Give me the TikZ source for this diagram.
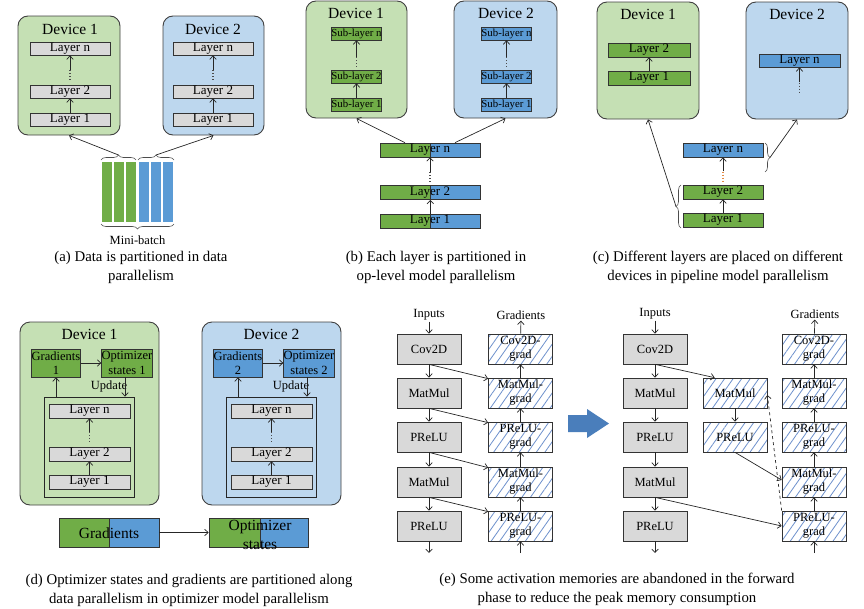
\documentclass[tikz,border=0pt]{standalone}
\usepackage{fontspec}
\setmainfont{Liberation Serif}
\usetikzlibrary{arrows.meta,patterns.meta,decorations.pathreplacing}
\definecolor{devgreen}{RGB}{197,224,180}
\definecolor{devblue}{RGB}{189,215,238}
\definecolor{laygreen}{RGB}{112,173,71}
\definecolor{layblue}{RGB}{91,155,213}
\definecolor{laygray}{RGB}{217,217,217}
\definecolor{hatchblue}{RGB}{110,145,205}
\definecolor{bigblue}{RGB}{74,126,187}
\definecolor{dotorange}{RGB}{228,140,70}
\tikzset{
  ar/.style={->,line width=0.7pt,black!85},
  devbox/.style={draw=black!75,line width=0.9pt,rounded corners=10pt,inner sep=0pt},
  title/.style={font=\fontsize{15.5}{17}\selectfont,inner sep=0pt},
  layer/.style={draw=black!80,line width=0.7pt,fill=laygray,minimum width=80pt,minimum height=13pt,inner sep=0pt,font=\fontsize{13}{13}\selectfont},
  sublayer/.style={layer,minimum width=49pt,font=\fontsize{10.8}{11}\selectfont},
  half/.style={draw=black!80,line width=0.7pt,minimum width=50pt,minimum height=14pt,inner sep=0pt},
  laytext/.style={minimum height=14pt,inner sep=0pt,font=\fontsize{13}{13}\selectfont},
  lab/.style={inner sep=1pt,font=\fontsize{12.5}{14}\selectfont},
  dotcol/.style={minimum width=2pt,minimum height=10pt,inner sep=0pt,
    path picture={\draw[#1,line width=1.1pt,dash pattern=on 1pt off 2pt]
      (path picture bounding box.north) -- (path picture bounding box.south);}},
  dotcol/.default=black!70,
  brc/.style={decorate,decoration={brace,amplitude=5pt},draw=black!70,line width=0.6pt},
  gbox/.style={draw=black!80,line width=0.7pt,minimum height=28pt,inner sep=0pt,align=center,font=\fontsize{12.5}{14.5}\selectfont},
  opbox/.style={draw=black!80,line width=0.7pt,minimum width=64pt,minimum height=30pt,inner sep=0pt,align=center,font=\fontsize{12.5}{14}\selectfont},
  fwd/.style={opbox,fill=laygray},
  hatched/.style={opbox,preaction={fill=white},pattern={Lines[angle=55,distance=7pt,line width=0.8pt]},pattern color=hatchblue},
  bigtext/.style={inner sep=0pt,align=center,font=\fontsize{15.5}{19}\selectfont},
  capt/.style={align=center,inner sep=0pt,font=\fontsize{14.8}{19}\selectfont},
}
\begin{document}
\begin{tikzpicture}[x=1pt,y=-1pt,>={Straight Barb[length=3.5pt,width=6.5pt]}]
  \useasboundingbox (0,0) rectangle (864,608);
  % (a) data parallelism
  \node[devbox,fill=devgreen,minimum width=102pt,minimum height=119pt] (aDev1) at (69,75.5) {};
  \node[devbox,fill=devblue,minimum width=101pt,minimum height=119pt] (aDev2) at (213.5,75.5) {};
  \foreach \dv/\x in {1/70,2/213} {
    \node[title] (aTit\dv) at (\x,29) {Device \dv};
    \node[layer] (aLn\dv) at (\x,48.5) {Layer n};
    \node[layer] (aLb\dv) at (\x,91.5) {Layer 2};
    \node[layer] (aLa\dv) at (\x,119.5) {Layer 1};
    \node[dotcol] (aDot\dv) at (\x,75) {};
    \draw[ar] (aLa\dv) -- (aLb\dv);
    \draw[ar] (aDot\dv) -- (aLn\dv);
  }
  \foreach \i in {0,1,2} {
    \fill[laygreen] (102+12*\i,162) rectangle ++(10,60);
    \fill[layblue] (138.5+12*\i,162) rectangle ++(10,60);
  }
  \draw[brc] (101,160) -- (136,160);
  \draw[brc] (138,160) -- (174,160);
  \draw[brc] (174,224) -- (101,224);
  \coordinate (aTipG) at (118.5,155);
  \coordinate (aTipB) at (156,155);
  \draw[ar] (aTipG) -- (aDev1.south);
  \draw[ar] (aTipB) -- (aDev2.south);
  \node[lab] (aMini) at (137.5,240) {Mini-batch};
  \node[capt] (aCap) at (141,267.5) {(a) Data is partitioned in data\\parallelism};
  % (b) op-level model parallelism
  \node[devbox,fill=devgreen,minimum width=101pt,minimum height=117pt] (bDev1) at (356.5,59.5) {};
  \node[devbox,fill=devblue,minimum width=103pt,minimum height=117pt] (bDev2) at (505.5,59.5) {};
  \foreach \dv/\x/\col in {1/356.5/laygreen,2/506.5/layblue} {
    \node[title] (bTit\dv) at (\x-0.5,13) {Device \dv};
    \node[sublayer,fill=\col] (bSn\dv) at (\x,33.5) {Sub-layer n};
    \node[sublayer,fill=\col] (bSb\dv) at (\x,76.5) {Sub-layer 2};
    \node[sublayer,fill=\col] (bSa\dv) at (\x,104.5) {Sub-layer 1};
    \node[dotcol] (bDot\dv) at (\x,62) {};
    \draw[ar] (bSa\dv) -- (bSb\dv);
    \draw[ar] (bDot\dv) -- (bSn\dv);
  }
  \foreach \rw/\y in {n/150,2/192.5,1/221} {
    \node[half,fill=laygreen] (bLG\rw) at (405,\y) {};
    \node[half,fill=layblue] (bLB\rw) at (455,\y) {};
    \node[laytext] (bL\rw) at (430,\y) {Layer \rw};
  }
  \node[dotcol] (bDot) at (430,177) {};
  \draw[ar] (bLG1.north east) -- (bLG2.south east);
  \draw[ar] (bDot) -- (bLn);
  \draw[ar] (bLGn.north) -- (bDev1.south);
  \draw[ar] (bLBn.north) -- (bDev2.south);
  \node[capt] (bCap) at (436,267.5) {(b) Each layer is partitioned in\\op-level model parallelism};
  % (c) pipeline model parallelism
  \node[devbox,fill=devgreen,minimum width=102pt,minimum height=117pt] (cDev1) at (648,60.5) {};
  \node[devbox,fill=devblue,minimum width=102pt,minimum height=117pt] (cDev2) at (797,60.5) {};
  \node[title] (cTit1) at (648,14) {Device 1};
  \node[title] (cTit2) at (797,14) {Device 2};
  \node[layer,fill=laygreen,minimum width=82pt,minimum height=14pt] (cDb1) at (649,50) {Layer 2};
  \node[layer,fill=laygreen,minimum width=82pt,minimum height=14pt] (cDa1) at (649,78) {Layer 1};
  \draw[ar] (cDa1) -- (cDb1);
  \node[layer,fill=layblue,minimum width=81pt] (cDn2) at (799.5,60.5) {Layer n};
  \node[dotcol] (cDot2) at (799.5,87.5) {};
  \draw[ar] (cDot2) -- (cDn2);
  \node[layer,fill=layblue,minimum height=14pt] (cLn) at (723,150) {Layer n};
  \node[layer,fill=laygreen,minimum height=14pt] (cLb) at (723,192) {Layer 2};
  \node[layer,fill=laygreen,minimum height=14pt] (cLa) at (723,220) {Layer 1};
  \node[dotcol=dotorange] (cDot) at (723,176.5) {};
  \draw[ar] (cLa) -- (cLb);
  \draw[ar] (cDot) -- (cLn);
  \draw[brc] (765,143) -- (765,172);
  \draw[brc] (681,228) -- (681,185);
  \coordinate (cTipR) at (770,157.5);
  \coordinate (cTipL) at (676,206.5);
  \draw[ar] (cTipR) -- (cDev2.south);
  \draw[ar] (cTipL) -- (cDev1.south);
  \node[capt] (cCap) at (718,267.5) {(c) Different layers are placed on different\\devices in pipeline model parallelism};
  % (d) optimizer model parallelism
  \node[devbox,fill=devgreen,minimum width=139pt,minimum height=183pt] (dDev1) at (89.5,413.5) {};
  \node[devbox,fill=devblue,minimum width=139pt,minimum height=183pt] (dDev2) at (271.5,413.5) {};
  \foreach \dv/\x/\col in {1/89.5/laygreen,2/271.5/layblue} {
    \node[title] (dTit\dv) at (\x,334.5) {Device \dv};
    \node[gbox,fill=\col,minimum width=48pt] (dG\dv) at (\x-33.5,363) {Gradients\\\dv};
    \node[gbox,fill=\col,minimum width=50pt] (dO\dv) at (\x+37.5,363) {Optimizer\\states \dv};
    \node[draw=black!85,line width=0.8pt,inner sep=0pt,minimum width=90pt,minimum height=100pt] (dIn\dv) at (\x,447) {};
    \node[layer,minimum width=81pt,minimum height=14pt] (dLn\dv) at (\x,411) {Layer n};
    \node[layer,minimum width=81pt,minimum height=14pt] (dLb\dv) at (\x,454) {Layer 2};
    \node[layer,minimum width=81pt,minimum height=14pt] (dLa\dv) at (\x,482) {Layer 1};
    \node[dotcol] (dDot\dv) at (\x,437) {};
    \node[lab] (dUp\dv) at (\x+19.5,386) {Update};
    \draw[ar] (dG\dv) -- (dO\dv);
    \draw[ar] ([xshift=-2pt]dO\dv.south) -- ([xshift=-2pt]dO\dv.south |- dIn\dv.north);
    \draw[ar] (dG\dv.south |- dIn\dv.north) -- (dG\dv.south);
    \draw[ar] (dLa\dv) -- (dLb\dv);
    \draw[ar] (dDot\dv) -- (dLn\dv);
  }
  \node[half,fill=laygreen,minimum height=29pt] (dGG) at (84,532.5) {};
  \node[half,fill=layblue,minimum height=29pt] (dGB) at (134,532.5) {};
  \node[bigtext] (dGt) at (109,533) {Gradients};
  \node[half,fill=laygreen,minimum width=51pt,minimum height=29pt] (dOG) at (234.5,532.5) {};
  \node[half,fill=layblue,minimum width=48pt,minimum height=29pt] (dOB) at (284,532.5) {};
  \node[bigtext] (dOt) at (260,535) {Optimizer\\states};
  \draw[ar] (dGB) -- (dOG);
  \node[capt] (dCap) at (189,590) {(d) Optimizer states and gradients are partitioned along\\data parallelism in optimizer model parallelism};
  % (e) recomputation
  \node[lab] (eIn) at (429,315) {Inputs};
  \node[lab] (eGr) at (521,315) {Gradients};
  \foreach \nm/\y/\txt in {C/349/Cov2D,M/393/MatMul,P/437/PReLU,Q/482/MatMul,R/526/PReLU} {
    \node[fwd] (e\nm) at (429,\y) {\txt};
    \node[hatched] (g\nm) at (520.5,\y) {\txt-\\grad};
  }
  \foreach \up/\dn in {C/M,M/P,P/Q,Q/R} {
    \draw[ar] (e\up) -- (e\dn);
    \draw[ar] (g\dn) -- (g\up);
    \draw[ar] (e\up.south) -- ([yshift=-1pt]g\dn.north west);
  }
  \coordinate (eEnd) at (429,553);
  \coordinate (gEnd) at (520.5,553);
  \draw[ar] (eIn) -- (eC);
  \draw[ar] (gC) -- (eGr);
  \draw[ar] (eR) -- (eEnd);
  \draw[ar] (gEnd) -- (gR);
  \fill[bigblue] (568,415) -- (587,415) -- (587,409) -- (609,423.5) -- (587,438) -- (587,432) -- (568,432) -- cycle;
  \node[lab] (fIn) at (655,314) {Inputs};
  \node[lab] (fGr) at (815,314) {Gradients};
  \foreach \nm/\y/\txt in {C/349/Cov2D,M/393/MatMul,P/437/PReLU,Q/482/MatMul,R/526/PReLU} {
    \node[fwd] (f\nm) at (655,\y) {\txt};
    \node[hatched] (h\nm) at (814,\y) {\txt-\\grad};
  }
  \node[hatched] (mM) at (735,393) {MatMul};
  \node[hatched] (mP) at (735,437) {PReLU};
  \foreach \up/\dn in {C/M,M/P,P/Q,Q/R} {
    \draw[ar] (f\up) -- (f\dn);
    \draw[ar] (h\dn) -- (h\up);
  }
  \coordinate (fEnd) at (655,553);
  \coordinate (hEnd) at (814,553);
  \draw[ar] (fIn) -- (fC);
  \draw[ar] (hC) -- (fGr);
  \draw[ar] (fR) -- (fEnd);
  \draw[ar] (hEnd) -- (hR);
  \draw[ar] (fC.south) -- ([xshift=12pt]mM.north west);
  \draw[ar] (mM) -- (mP);
  \draw[ar] (mP.south) -- ([yshift=2pt]hQ.west);
  \draw[ar] (fQ.south) -- (hR.west);
  \draw[ar,dashed] (hR.north west) -- ([yshift=-2pt]mM.east);
  \node[capt] (eCap) at (617,589.5) {(e) Some activation memories are abandoned in the forward\\phase to reduce the peak memory consumption};
\end{tikzpicture}
\end{document}
